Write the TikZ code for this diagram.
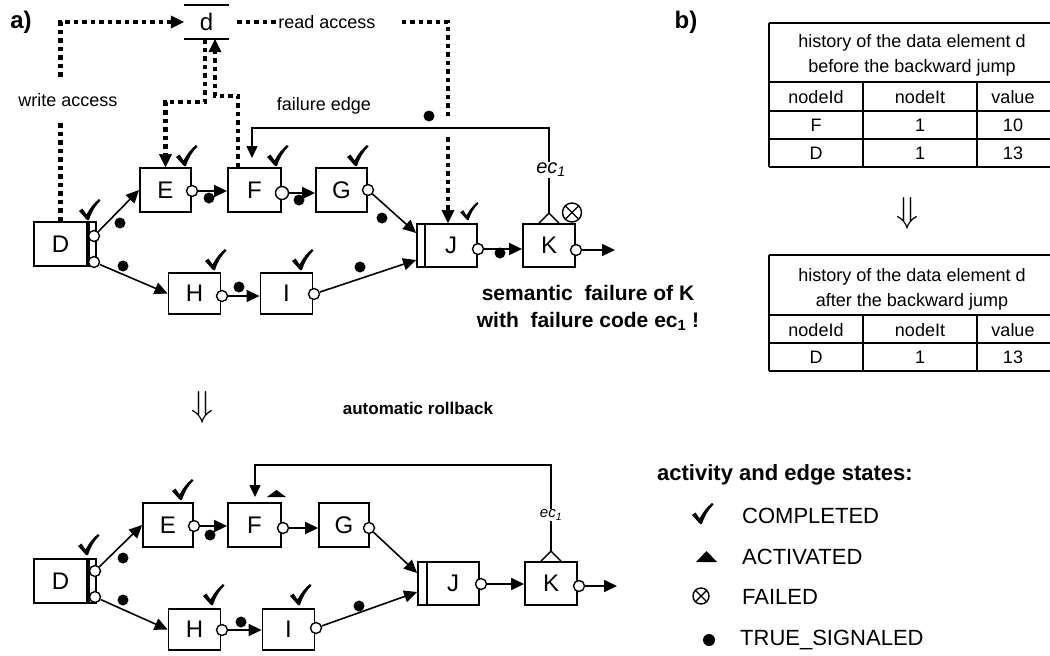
\documentclass[tikz,border=0pt]{standalone}
\usepackage{fontspec}
\setmainfont{Liberation Sans}
\usetikzlibrary{arrows.meta,calc}
\newcommand\fsz[1]{\fontsize{#1}{#1}\selectfont}

\tikzset{
  tick/.pic={\fill (0,0) -- (-8,-9) -- (-4.5,-11.5) -- (-0.5,-5.5)
      .. controls (3,-12) and (7,-17) .. (12,-21) -- (13.5,-19.5)
      .. controls (8,-14) and (4,-7) .. (2,0) -- cycle;},
  failmark/.pic={\draw[line width=1.4pt] (0,0) circle[radius=#1pt];
      \draw[line width=1.4pt] (-0.707*#1,-0.707*#1) -- (0.707*#1,0.707*#1)
                              (-0.707*#1,0.707*#1) -- (0.707*#1,-0.707*#1);}
}

\begin{document}
\begin{tikzpicture}[x=1pt,y=-1pt,
  box/.style={draw,line width=1.8pt,inner sep=0pt,minimum width=52pt,minimum height=44pt,font=\fsz{24}},
  strip/.style={draw,line width=1.8pt,inner sep=0pt,minimum width=7pt,minimum height=44pt},
  port/.style={circle,draw,fill=white,line width=1.4pt,inner sep=0pt,minimum size=11pt},
  flow/.style={line width=1.6pt,-{Triangle[length=13pt,width=12pt]}},
  ln/.style={line width=1.5pt},
  dline/.style={line width=4.5pt,dash pattern=on 4.5pt off 4pt},
  dflow/.style={dline,-{Triangle[length=13pt,width=13pt,line width=0.5pt]}},
  ftip/.style={ln,-{Triangle[length=12pt,width=11pt]}},
  lbl/.style={font=\fsz{18},inner sep=2pt},
  tbl/.style={font=\fsz{18},inner sep=0pt},
  hrule/.style={line width=2pt},
  vrule/.style={line width=1.5pt},
  bigarrow/.style={font=\fsz{24},scale=1.45,inner sep=0pt},
]
\fill[white] (0,0) rectangle (1050,656);
\useasboundingbox (0,0) rectangle (1050,656);

% ---------- panel labels ----------
\node[font=\bfseries\fsz{24}] (pa) at (21,22) {a)};
\node[font=\bfseries\fsz{24}] (pb) at (686,22) {b)};

% ================= upper process =================
\node[box,minimum width=53pt] (D) at (60.5,244) {D};
\node[strip,anchor=west] (Ds) at (D.east) {};
\node[box,minimum width=51pt] (E) at (165.5,190) {E};
\node[box,minimum width=53pt] (F) at (254.5,190) {F};
\node[box,minimum width=51pt] (G) at (341.5,190) {G};
\node[box,minimum height=41pt] (H) at (194.5,293.5) {H};
\node[box,minimum height=41pt] (I) at (286.5,293.5) {I};
\node[strip,minimum width=8pt,minimum height=43pt] (Js) at (421,245.5) {};
\node[box,minimum height=43pt] (J) at (451,245.5) {J};
\node[box,minimum height=43pt] (K) at (549,245.5) {K};
\coordinate (Kend) at (615,250);

% data element d
\node[minimum width=45pt,minimum height=34pt,inner sep=0pt,font=\fsz{24}] (d) at (206.5,22) {d};
\draw[ln] (d.north west) -- (d.north east) (d.south west) -- (d.south east);

% data flow (dotted)
\draw[dflow] (D.north) |- (d.west);
\node[lbl,fill=white,inner ysep=12pt] (wa) at (68,100) {write access};
\node[lbl] (ra) at (327,22) {read access};
\draw[dline] ([xshift=8pt]d.east) -- (ra.west);
\draw[dflow] ([xshift=24pt]ra.east) -| ([xshift=-3pt]J.north);
\draw[dflow] ([xshift=-1.5pt]d.south) |- ($(E.north)+(0,-65)$) -- (E.north);
\draw[dflow] ([xshift=-16.5pt]F.north) -- ++(0,-71) -| ([xshift=8.5pt]d.south);
\draw[white,line width=7pt] (448,119) -- (448,137);

% control flow
\node[port] (Dp1) at (94,236) {};
\node[port] (Dp2) at (94,262) {};
\node[port] (Eo) at (192,191) {};
\node[port,minimum width=13pt] (Fo) at (282,193) {};
\node[port] (Go) at (368,190) {};
\node[port] (Ho) at (222,296) {};
\node[port] (Io) at (314,294) {};
\node[port] (Jo) at (478,249) {};
\node[port] (Ko) at (576,250) {};
\draw[flow] (Dp1) -- (E.west);
\draw[flow] (Dp2) -- (H.west);
\draw[flow] (Eo) -- (Eo -| F.west);
\draw[flow] (Fo) -- (Fo -| G.west);
\draw[flow] (Ho) -- (Ho -| I.west);
\draw[flow] (Go) -- ([yshift=12.5pt]Js.west);
\draw[flow] (Io) -- ([yshift=-14.5pt]Js.west);
\draw[flow] (Jo) -- (Jo -| K.west);
\draw[flow] (Ko) -- (Kend);

% failure edge
\coordinate (Kapex) at ([yshift=10pt]K.north);
\coordinate (Fin) at (252,158);
\draw[ln] ([xshift=-10pt]K.north) -- (Kapex) -- ([xshift=10pt]K.north);
\node[font=\itshape\fsz{20},inner sep=1pt] (ec) at (551,170) {ec\textsubscript{1}};
\draw[ln] (Kapex) -- (Kapex |- ec.south);
\draw[ftip] (Kapex |- ec.north) -- (549,128) -| (Fin);
\node[lbl] (fe) at (324,106) {failure edge};

% states
\foreach \p in {(120,223),(123,266),(209,198),(299,200),(239,287),(382,218),(360,267),(500,253),(429,116)}
  \fill \p circle[radius=5.5pt];
\foreach \p in {(87,220),(184,166),(275,166),(355,166),(213,270),(300,270)}
  \pic at \p {tick};
\pic[scale=0.85] at (467,220) {tick};
\pic at (572,212.5) {failmark=9.5};

\node[font=\bfseries\fsz{21},align=center] (sem) at (588,308)
  {semantic\ \ failure of K\\[6pt]with\ \ failure code ec\textsubscript{1} !};

% ================= transition =================
\node[bigarrow] (down1) at (203,407) {$\Downarrow$};
\node[font=\bfseries\fsz{17}] (rb) at (418,408) {automatic rollback};

% ================= lower process =================
\node[box,minimum width=53pt] (D2) at (60.5,581) {D};
\node[strip,anchor=west] (D2s) at (D2.east) {};
\node[box,minimum width=50pt] (E2) at (168,525) {E};
\node[box,minimum width=53pt] (F2) at (254.5,525) {F};
\node[box,minimum width=50pt] (G2) at (344,525) {G};
\node[box,minimum height=41pt] (H2) at (194.5,629.5) {H};
\node[box,minimum height=41pt] (I2) at (288.5,629.5) {I};
\node[strip,minimum width=9pt,minimum height=43pt] (J2s) at (422.5,583.5) {};
\node[box,minimum height=43pt] (J2) at (453,583.5) {J};
\node[box,minimum height=43pt] (K2) at (551,583.5) {K};
\coordinate (K2end) at (617,586);

\node[port] (D2p1) at (95,571) {};
\node[port] (D2p2) at (95,597) {};
\node[port] (E2o) at (194,526) {};
\node[port] (F2o) at (283,528) {};
\node[port] (G2o) at (369,528) {};
\node[port] (H2o) at (222,630) {};
\node[port] (I2o) at (316,628) {};
\node[port] (J2o) at (481,584) {};
\node[port] (K2o) at (579,586) {};
\draw[flow] (D2p1) -- (E2.west);
\draw[flow] (D2p2) -- (H2.west);
\draw[flow] (E2o) -- (E2o -| F2.west);
\draw[flow] (F2o) -- (F2o -| G2.west);
\draw[flow] (H2o) -- (H2o -| I2.west);
\draw[flow] (G2o) -- ([yshift=10.5pt]J2s.west);
\draw[flow] (I2o) -- ([yshift=-8.5pt]J2s.west);
\draw[flow] (J2o) -- (J2o -| K2.west);
\draw[flow] (K2o) -- (K2end);

\coordinate (K2apex) at ([yshift=10pt]K2.north);
\coordinate (F2in) at (255,497);
\draw[ln] ([xshift=-10pt]K2.north) -- (K2apex) -- ([xshift=10pt]K2.north);
\node[font=\itshape\fsz{15},inner sep=1pt] (ec2) at (551,515) {ec\textsubscript{1}};
\draw[ln] (K2apex) -- (K2apex |- ec2.south);
\draw[ftip] (K2apex |- ec2.north) -- (551,465) -| (F2in);

\foreach \p in {(123,558),(123,600),(210,535),(241,622),(359,606)}
  \fill \p circle[radius=5.5pt];
\foreach \p in {(86,555),(180,500),(211,605),(298,605)}
  \pic at \p {tick};
\fill (267,497) -- (276.5,490) -- (286,497) -- cycle;

% ================= legend =================
\node[font=\bfseries\fsz{22},anchor=west,inner sep=0pt] (lt) at (657,475) {activity and edge states:};
\pic at (700,524) {tick};
\fill (696,562) -- (706.5,551) -- (717,562) -- cycle;
\pic at (701,596) {failmark=8};
\fill (709,640) circle[radius=6pt];
\node[font=\fsz{22},anchor=west,inner sep=0pt] (l1) at (742,516) {COMPLETED};
\node[font=\fsz{22},anchor=west,inner sep=0pt] (l2) at (742,557) {ACTIVATED};
\node[font=\fsz{22},anchor=west,inner sep=0pt] (l3) at (742,597) {FAILED};
\node[font=\fsz{22},anchor=west,inner sep=0pt] (l4) at (740,640) {TRUE\_SIGNALED};

% ================= history tables =================
% before the backward jump
\draw[hrule] (769,23) -- (1050,23) (769,82) -- (1050,82) (769,111) -- (1050,111)
             (769,139) -- (1050,139) (769,167) -- (1050,167);
\draw[vrule] (769,23) -- (769,167) (863,82) -- (863,167) (977,82) -- (977,167);
\node[tbl,align=center] (t1) at (912,55.5) {history of the data element d\\[7pt]before the backward jump};
\node[tbl] (t1a) at (816,97) {nodeId};
\node[tbl] (t1b) at (920,97) {nodeIt};
\node[tbl] (t1c) at (1013,97) {value};
\node[tbl] (t1d) at (816,125) {F};
\node[tbl] (t1e) at (920,125) {1};
\node[tbl] (t1f) at (1013,125) {10};
\node[tbl] (t1g) at (816,153) {D};
\node[tbl] (t1h) at (920,153) {1};
\node[tbl] (t1i) at (1013,153) {13};

\node[bigarrow] (down2) at (908,213) {$\Downarrow$};

% after the backward jump
\draw[hrule] (769,255) -- (1050,255) (769,315) -- (1050,315) (769,343) -- (1050,343)
             (769,371) -- (1050,371);
\draw[vrule] (769,255) -- (769,371) (863,315) -- (863,371) (977,315) -- (977,371);
\node[tbl,align=center] (t2) at (912,289.5) {history of the data element d\\[7pt]after the backward jump};
\node[tbl] (t2a) at (816,330) {nodeId};
\node[tbl] (t2b) at (920,330) {nodeIt};
\node[tbl] (t2c) at (1013,330) {value};
\node[tbl] (t2d) at (816,357) {D};
\node[tbl] (t2e) at (920,357) {1};
\node[tbl] (t2f) at (1013,357) {13};
\end{tikzpicture}
\end{document}
